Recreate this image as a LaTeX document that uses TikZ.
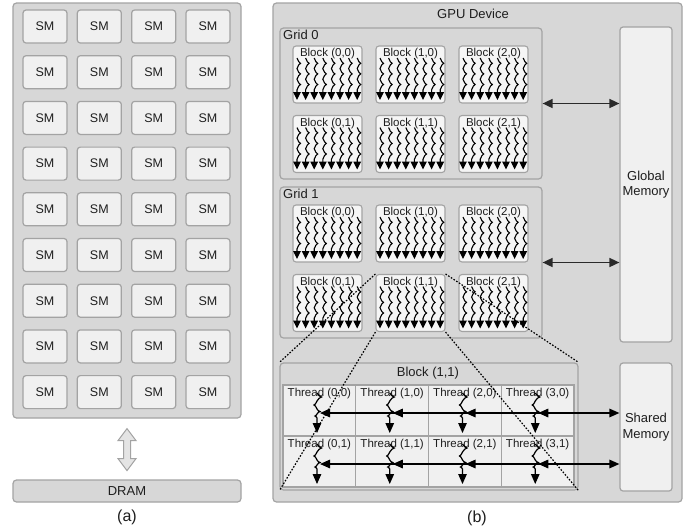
\documentclass[tikz,border=0pt]{standalone}
\usepackage{fontspec}
\setmainfont{Liberation Sans}
\usetikzlibrary{arrows.meta}
\definecolor{panelgray}{HTML}{D7D7D7}
\definecolor{edgegray}{HTML}{A3A3A3}
\definecolor{boxfill}{HTML}{F0F0F0}
\definecolor{blockfill}{HTML}{F5F5F5}
\definecolor{ink}{HTML}{1E1E1E}
\definecolor{arrowink}{HTML}{2A2A2A}
\definecolor{hollowfill}{HTML}{E4E4E4}
\tikzset{
  panel/.style={draw=edgegray, fill=panelgray, line width=1.2pt, rounded corners=3.5pt},
  smbox/.style={draw=edgegray, fill=boxfill, line width=1.2pt, rounded corners=3pt,
    minimum width=44pt, minimum height=33pt, font=\fontsize{12.5}{14}\selectfont},
  blk/.style={draw=edgegray, fill=blockfill, line width=1.1pt, rounded corners=3pt,
    minimum width=69pt, minimum height=57pt},
  blklabel/.style={font=\fontsize{11.5}{13}\selectfont},
  biglabel/.style={font=\fontsize{13}{15.5}\selectfont},
  mem/.style={draw=edgegray, fill=boxfill, line width=1.2pt, rounded corners=3pt,
    minimum width=52pt, align=center, font=\fontsize{13}{15.5}\selectfont},
  cell/.style={draw=edgegray, fill=boxfill, line width=1.1pt,
    minimum width=72.75pt, minimum height=51pt},
  biarrow/.style={{Triangle[length=10pt,width=9pt]}-{Triangle[length=10pt,width=9pt]},
    line width=1.6pt, draw=arrowink},
  thrarrow/.style={{Triangle[length=10pt,width=8.5pt]}-{Triangle[length=10pt,width=8.5pt]},
    line width=1.4pt, draw=black},
  tiponly/.style={-{Triangle[length=10pt,width=8.5pt]}, line width=1.4pt, draw=black},
  zoomline/.style={dash pattern=on 1.6pt off 1.6pt, line width=1.2pt, draw=black},
  bwave/.pic={\draw[-{Triangle[length=8pt,width=7.6pt]}, line width=1.1pt, black]
    (0,0) sin (3.5,5.3) cos (0,10.6) sin (3.5,15.9) cos (0,21.2) sin (3.5,26.5) cos (0,31.8) -- (0,42);},
  twave/.pic={\draw[-{Triangle[length=10pt,width=8.5pt]}, line width=1.2pt, black]
    (0,0) sin (4.5,4) cos (0,8) sin (-3,12) cos (0,16) sin (3,18.5) cos (0,21) sin (-2,23) cos (0,25) -- (0,40);}
}
\begin{document}
\begin{tikzpicture}[x=1pt,y=-1pt, every node/.style={inner sep=0pt, text=ink}]
\useasboundingbox (0,0) rectangle (694,531);
\fill[white] (0,0) rectangle (694,531);

% ---------- (a) ----------
\node[panel, minimum width=228pt, minimum height=415pt] (pa) at (127,210.5) {};
\foreach \c in {0,...,3} {
  \foreach \r in {0,...,8} {
    \node[smbox] (sm\c\r) at ({45+54.33*\c},{26.5+45.7*\r}) {SM};
  }
}
\node[panel, minimum width=228pt, minimum height=22pt, biglabel] (dram) at (127,491) {DRAM};
\path (pa.south) ++(0,10) coordinate (ha);
\draw[draw=edgegray, fill=hollowfill, line width=1pt]
  (ha) -- +(9,12) -- +(3.5,12) -- +(3.5,30) -- +(9,30) -- +(0,42)
  -- +(-9,30) -- +(-3.5,30) -- +(-3.5,12) -- +(-9,12) -- cycle;
\node[font=\fontsize{16}{18}\selectfont] (la) at (127,517) {(a)};

% ---------- (b) ----------
\node[panel, minimum width=409pt, minimum height=499pt] (gpu) at (477.5,252.5) {};
\node[biglabel] (gpulabel) at (473,14) {GPU Device};
\node[panel, minimum width=262pt, minimum height=151pt] (grid0) at (411,103.5) {};
\node[biglabel, anchor=west] (g0label) at (283,35) {Grid 0};
\node[panel, minimum width=262pt, minimum height=151pt] (grid1) at (411,262.5) {};
\node[biglabel, anchor=west] (g1label) at (283,194) {Grid 1};

\foreach \g/\gy in {0/28,1/187} {
  \foreach \c in {0,1,2} {
    \foreach \r in {0,1} {
      \pgfmathsetmacro\bx{327.5+83*\c}
      \pgfmathsetmacro\by{\gy+46.5+69.5*\r}
      \node[blk] (b\g\c\r) at (\bx,\by) {};
      \node[blklabel] (bl\g\c\r) at (\bx,\by-20.5) {Block (\c,\r)};
      \foreach \k in {0,...,7} {
        \pic at ({\bx-30.5+8.6*\k},{\by-16.5}) {bwave};
      }
    }
  }
}

\node[mem, minimum height=315pt] (gmem) at (646,184.5) {Global\\Memory};
\draw[biarrow] (grid0.east) -- (grid0.east -| gmem.west);
\draw[biarrow] (grid1.east) -- (grid1.east -| gmem.west);

\node[panel, minimum width=298pt, minimum height=127pt] (bx) at (429,426.5) {};
\node[biglabel] (bxlabel) at (428,373) {Block (1,1)};
\node[mem, minimum height=128pt] (smem) at (646,427) {Shared\\Memory};

\foreach \i in {0,...,3} {
  \foreach \j in {0,1} {
    \pgfmathsetmacro\cl{283+72.75*\i}
    \pgfmathsetmacro\ct{385+51*\j}
    \node[cell] (t\i\j) at (\cl+36.375,\ct+25.5) {};
    \node[blklabel] (tl\i\j) at (\cl+36.375,\ct+9) {Thread (\i,\j)};
    \pic at (\cl+34,\ct+8) {twave};
    \coordinate (h\i\j) at (\cl+37,\ct+28);
  }
}
\foreach \j in {0,1} {
  \draw[thrarrow] (h0\j) -- (h0\j -| smem.west);
  \foreach \i in {1,2,3} {
    \path (h\i\j) ++(11,0) coordinate (hs\i\j);
    \draw[tiponly] (hs\i\j) -- (h\i\j);
  }
}

\draw[zoomline] (b111.north west) -- (bx.north west);
\draw[zoomline] (b111.south west) -- (bx.south west);
\draw[zoomline] (b111.north east) -- (bx.north east);
\draw[zoomline] (b111.south east) -- (bx.south east);

\node[font=\fontsize{16}{18}\selectfont] (lb) at (477,518) {(b)};
\end{tikzpicture}
\end{document}
